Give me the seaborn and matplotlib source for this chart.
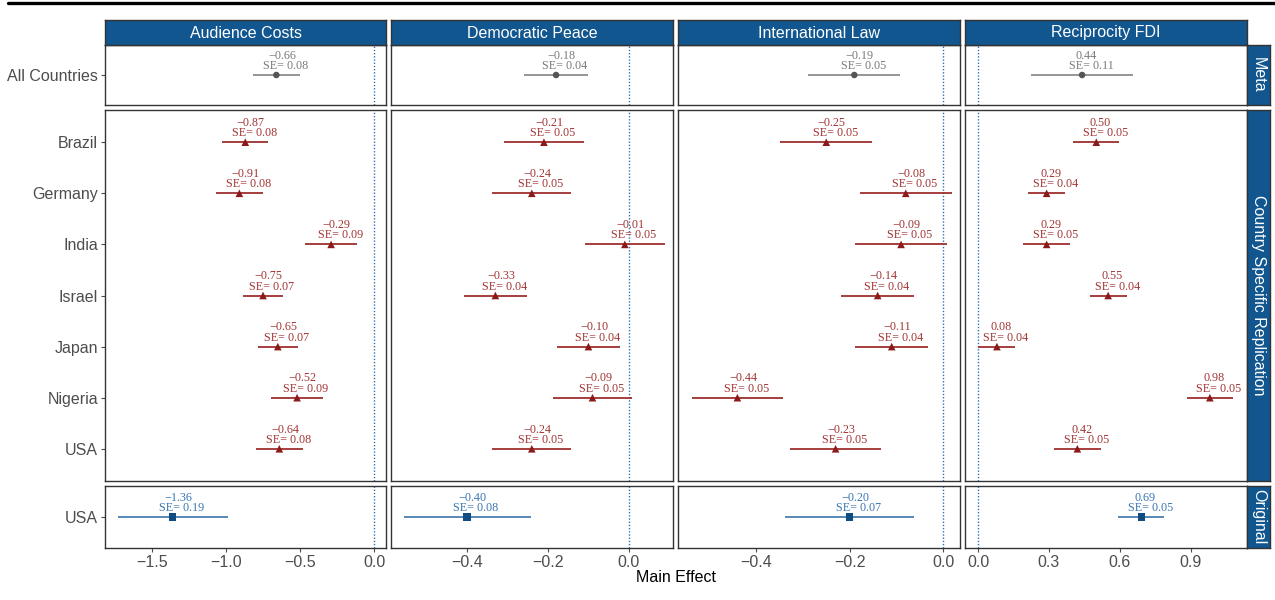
import numpy as np
import pandas as pd
import matplotlib
matplotlib.use("Agg")
import matplotlib.pyplot as plt
import seaborn as sns
from matplotlib.lines import Line2D

# ---------------- data ----------------
studies = ["Audience Costs", "Democratic Peace", "International Law", "Reciprocity FDI"]
countries = ["Brazil", "Germany", "India", "Israel", "Japan", "Nigeria", "USA"]

meta_est = [-0.66, -0.18, -0.19, 0.44]
meta_se = [0.08, 0.04, 0.05, 0.11]

ac_est = [-0.87, -0.91, -0.29, -0.75, -0.65, -0.52, -0.64]
ac_se = [0.08, 0.08, 0.09, 0.07, 0.07, 0.09, 0.08]
dp_est = [-0.21, -0.24, -0.01, -0.33, -0.10, -0.09, -0.24]
dp_se = [0.05, 0.05, 0.05, 0.04, 0.04, 0.05, 0.05]
il_est = [-0.25, -0.08, -0.09, -0.14, -0.11, -0.44, -0.23]
il_se = [0.05, 0.05, 0.05, 0.04, 0.04, 0.05, 0.05]
rf_est = [0.50, 0.29, 0.29, 0.55, 0.08, 0.98, 0.42]
rf_se = [0.05, 0.04, 0.05, 0.04, 0.04, 0.05, 0.05]

orig_est = [-1.36, -0.40, -0.20, 0.69]
orig_se = [0.19, 0.08, 0.07, 0.05]

groups = ["Meta", "Country Specific Replication", "Original"]
group_labels = {"Meta": ["All Countries"],
                "Country Specific Replication": countries,
                "Original": ["USA"]}

rep_est = [ac_est, dp_est, il_est, rf_est]
rep_se = [ac_se, dp_se, il_se, rf_se]

rows = []
for i, s in enumerate(studies):
    rows.append(dict(group="Meta", study=s, label="All Countries", est=meta_est[i], se=meta_se[i]))
    for j, c in enumerate(countries):
        rows.append(dict(group="Country Specific Replication", study=s, label=c,
                         est=rep_est[i][j], se=rep_se[i][j]))
    rows.append(dict(group="Original", study=s, label="USA", est=orig_est[i], se=orig_se[i]))
df = pd.DataFrame(rows)
df["lo"] = df.est - 1.96 * df.se
df["hi"] = df.est + 1.96 * df.se

# ---------------- style ----------------
sns.set_theme(style="white")
plt.rcParams["font.family"] = ["Liberation Sans", "DejaVu Sans"]

STRIP = "#11568f"
styles = {
    "Meta": dict(marker="o", s=22, pc="#555555", lc="#8c8c8c", tc="#7a7a7a"),
    "Country Specific Replication": dict(marker="^", s=30, pc="#8b1a1a", lc="#9e2f2f", tc="#a33535"),
    "Original": dict(marker="s", s=28, pc="#0f4c81", lc="#4a7fb0", tc="#3a76b2"),
}

xlims = [(-1.818, 0.081), (-0.588, 0.109), (-0.567, 0.036), (-0.055, 1.137)]
xticks = [[-1.5, -1.0, -0.5, 0.0], [-0.4, -0.2, 0.0], [-0.4, -0.2, 0.0], [0.0, 0.3, 0.6, 0.9]]

W, H = 1275, 600
fig = plt.figure(figsize=(W / 100, H / 100), dpi=100)

col_x = [(105, 386), (391, 673), (678, 960), (965, 1247)]
row_y = [(45, 105), (110, 481), (486, 548)]


def fax(x0, y0, x1, y1):
    return fig.add_axes([x0 / W, 1 - y1 / H, (x1 - x0) / W, (y1 - y0) / H])


def fmt(v, nd=2):
    return f"{v:.{nd}f}".replace("-", "\u2212")


labels_to_shift = []

for ci, study in enumerate(studies):
    for ri, grp in enumerate(groups):
        ax = fax(col_x[ci][0], row_y[ri][0], col_x[ci][1], row_y[ri][1])
        st = styles[grp]
        labs = group_labels[grp]
        sub = df[(df.study == study) & (df.group == grp)].copy()
        sub["ypos"] = [labs.index(l) for l in sub.label]

        ax.axvline(0, color="#2f72b8", lw=1.0, ls=(0, (1, 1.3)), zorder=1)
        ax.hlines(sub.ypos, sub.lo, sub.hi, color=st["lc"], lw=1.3, zorder=2)
        sns.scatterplot(data=sub, x="est", y="ypos", marker=st["marker"], s=st["s"],
                        color=st["pc"], edgecolor="none", linewidth=0, ax=ax,
                        legend=False, zorder=3)
        for _, r in sub.iterrows():
            for txt, dy in ((fmt(r.est), 11.7), (f"SE= {r.se:.2f}", 4.3)):
                a = ax.annotate(txt, (r.est, r.ypos), xytext=(0, dy),
                                textcoords="offset points", ha="center", va="baseline",
                                fontsize=8.7, family=["Liberation Serif", "DejaVu Serif"],
                                color=st["tc"], zorder=4)
                labels_to_shift.append((a, dy))

        ax.set_xlim(*xlims[ci])
        n = len(labs)
        ax.set_ylim(n - 1 + 0.63, -0.63)
        ax.set_xlabel("")
        ax.set_ylabel("")
        ax.set_yticks(range(n))
        if ci == 0:
            ax.set_yticklabels(labs, fontsize=11.5, color="#4d4d4d")
            ax.tick_params(axis="y", left=True, length=3, width=0.8, color="#4d4d4d", pad=2)
        else:
            ax.set_yticklabels([])
            ax.tick_params(axis="y", left=False)
        ax.set_xticks(xticks[ci])
        if ri == 2:
            ax.set_xticklabels([fmt(t, 1) for t in xticks[ci]], fontsize=11.5, color="#4d4d4d")
            ax.tick_params(axis="x", bottom=True, length=3, width=0.8, color="#4d4d4d", pad=2)
        else:
            ax.set_xticklabels([])
            ax.tick_params(axis="x", bottom=False)
        for sp in ax.spines.values():
            sp.set_color("#333333")
            sp.set_linewidth(1.0)
        ax.set_facecolor("white")

    # top strip
    sax = fax(col_x[ci][0], 20, col_x[ci][1], 45)
    sax.set_facecolor(STRIP)
    sax.set_xticks([]); sax.set_yticks([])
    for sp in sax.spines.values():
        sp.set_color("#333333"); sp.set_linewidth(1.0)
    sax.text(0.5, 0.48, study, ha="center", va="center", color="white",
             fontsize=11.5, transform=sax.transAxes)

# right strips
for ri, grp in enumerate(groups):
    sax = fax(1247, row_y[ri][0], 1270, row_y[ri][1])
    sax.set_facecolor(STRIP)
    sax.set_xticks([]); sax.set_yticks([])
    for sp in sax.spines.values():
        sp.set_color("#333333"); sp.set_linewidth(1.0)
    sax.text(0.5, 0.5, grp, ha="center", va="center", color="white",
             fontsize=11.5, rotation=270, transform=sax.transAxes)

fig.text(676 / W, 1 - 577 / H, "Main Effect", ha="center", va="center",
         fontsize=11.5, color="black")

# top rule
fig.add_artist(Line2D([8 / W, 1.0], [1 - 3 / H, 1 - 3 / H], color="black", lw=2.4,
                      transform=fig.transFigure))

# labels justified at ~0.3 of their own width (like ggplot hjust)
fig.canvas.draw()
renderer = fig.canvas.get_renderer()
for a, dy in labels_to_shift:
    w = a.get_window_extent(renderer).width
    a.xyann = (0.2 * w * 72 / fig.dpi, dy)

fig.savefig("out.png", dpi=100, facecolor="white")
